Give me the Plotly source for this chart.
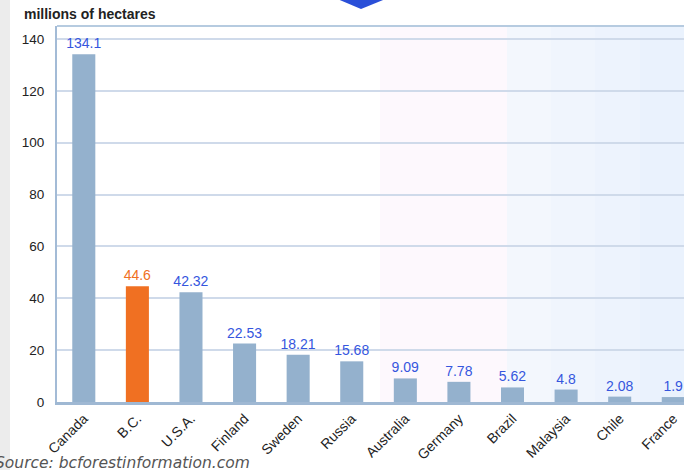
import plotly.graph_objects as go

countries = ["Canada", "B.C.", "U.S.A.", "Finland", "Sweden", "Russia",
             "Australia", "Germany", "Brazil", "Malaysia", "Chile", "France"]
values = [134.1, 44.6, 42.32, 22.53, 18.21, 15.68, 9.09, 7.78, 5.62, 4.8, 2.08, 1.9]
value_labels = ["134.1", "44.6", "42.32", "22.53", "18.21", "15.68",
                "9.09", "7.78", "5.62", "4.8", "2.08", "1.9"]
y_ticks = [0, 20, 40, 60, 80, 100, 120, 140]

W, H = 684, 470
ML, MR, MT, MB = 57, 0, 26, 68
PW, PH = W - ML - MR, H - MT - MB

def px(x):
    return (x - ML) / PW

def py(y):
    return (H - MB - y) / PH

bar_colors = ["#f07022" if c == "B.C." else "#94b1cd" for c in countries]
text_colors = ["#f07022" if c == "B.C." else "#3556de" for c in countries]

fig = go.Figure()
fig.add_trace(go.Bar(
    x=countries, y=values,
    marker=dict(color=bar_colors, line=dict(width=0)),
    text=value_labels, textposition="outside", constraintext="none",
    textfont=dict(family="Liberation Sans, Arial", size=14, color=text_colors),
    cliponaxis=False, width=0.43,
))

shapes = []
# left grey strip
shapes.append(dict(type="rect", xref="paper", yref="paper", x0=px(0), x1=px(10),
                   y0=py(H), y1=py(0), fillcolor="#ececec", line=dict(width=0), layer="below"))
# background bands
shapes.append(dict(type="rect", xref="paper", yref="paper", x0=px(380), x1=px(507),
                   y0=0, y1=1, fillcolor="#fdf8fd", line=dict(width=0), layer="below"))
blues = ["#f3f7fd", "#f0f5fd", "#edf3fd", "#eaf2fd"]
edges = [507, 551, 595, 640, 684]
for i, c in enumerate(blues):
    shapes.append(dict(type="rect", xref="paper", yref="paper", x0=px(edges[i]), x1=px(edges[i + 1]),
                       y0=0, y1=1, fillcolor=c, line=dict(width=0), layer="below"))
# top border line
shapes.append(dict(type="line", xref="paper", yref="paper", x0=0, x1=1, y0=1, y1=1,
                   line=dict(color="#b6cbe0", width=2)))
# blue arrow at the top
shapes.append(dict(type="path", xref="paper", yref="paper",
                   path=f"M {px(335)},{py(-2)} L {px(388)},{py(-2)} L {px(361)},{py(9)} Z",
                   fillcolor="#2a4fd8", line=dict(width=0)))

fig.update_layout(
    width=W, height=H,
    margin=dict(l=ML, r=MR, t=MT, b=MB),
    paper_bgcolor="white", plot_bgcolor="white",
    showlegend=False, bargap=0.57,
    shapes=shapes,
    xaxis=dict(range=[-0.5, 11.2], tickangle=-45,
               tickfont=dict(family="Liberation Sans, Arial", size=14, color="#222222"),
               showgrid=False, showline=True, linecolor="#9fb8d3", linewidth=3,
               ticks="", fixedrange=True),
    yaxis=dict(range=[0, 145], tickvals=y_ticks,
               tickfont=dict(family="Liberation Sans, Arial", size=13.5, color="#222222"),
               showgrid=True, gridcolor="#cfdaea", gridwidth=2,
               showline=True, linecolor="#a3bbd6", linewidth=2,
               zeroline=False, ticks="", ticklabelstandoff=8, fixedrange=True),
    annotations=[
        dict(text="<b>millions of hectares</b>", xref="paper", yref="paper",
             x=px(22), y=py(14), xanchor="left", yanchor="middle", showarrow=False,
             font=dict(family="Liberation Sans, Arial", size=14, color="#222222")),
        dict(text="Source: bcforestinformation.com", xref="paper", yref="paper",
             x=px(-7), y=py(463), xanchor="left", yanchor="middle", showarrow=False,
             font=dict(family="DejaVu Sans", size=15.5, color="#555555", style="italic")),
    ],
)

fig.write_html("out.html")
